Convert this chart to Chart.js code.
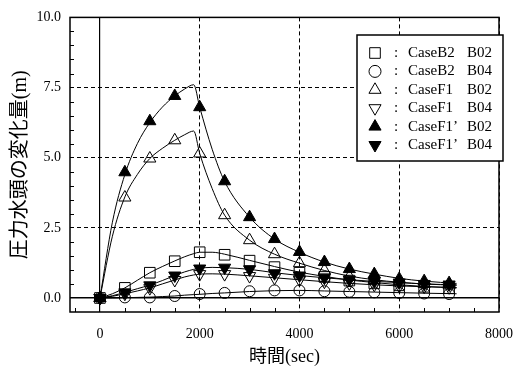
<!DOCTYPE html>
<html>
<head>
<meta charset="utf-8">
<script src="https://cdn.jsdelivr.net/npm/chart.js@4.4.0/dist/chart.umd.min.js"></script>
<style>
html, body { margin: 0; padding: 0; background: #fff; }
#wrap { width: 527px; height: 369px; }
</style>
</head>
<body>
<div id="wrap"><canvas id="c" width="527" height="369"></canvas></div>
<script>
// --- 測定点 (sec) ---
const obsTime = [0, 500, 1000, 1500, 2000, 2500, 3000, 3500, 4000, 4500, 5000, 5500, 6000, 6500, 7000];
const b2b02  = [0, 0.36, 0.90, 1.31, 1.63, 1.54, 1.33, 1.10, 0.90, 0.75, 0.62, 0.52, 0.45, 0.40, 0.35];
const b2b04  = [0, 0.02, 0.02, 0.07, 0.14, 0.18, 0.24, 0.27, 0.27, 0.24, 0.22, 0.20, 0.18, 0.16, 0.14];
const f1b02  = [0, 3.58, 4.97, 5.62, 5.15, 2.95, 2.06, 1.56, 1.24, 0.98, 0.76, 0.64, 0.55, 0.50, 0.45];
const f1b04  = [0, 0.15, 0.35, 0.64, 0.85, 0.85, 0.78, 0.72, 0.65, 0.58, 0.52, 0.47, 0.43, 0.40, 0.38];
const f1pb02 = [0, 4.48, 6.30, 7.20, 6.80, 4.16, 2.88, 2.10, 1.64, 1.28, 1.03, 0.85, 0.68, 0.60, 0.53];
const f1pb04 = [0, 0.20, 0.45, 0.80, 1.05, 1.08, 1.02, 0.88, 0.80, 0.72, 0.65, 0.60, 0.55, 0.50, 0.48];

// --- 解析曲線 ---
const curveTime = [0, 250, 500, 750, 1000, 1250, 1500, 1700, 1880, 2000, 2250, 2500, 3000, 3500, 4000, 4500, 5000, 5500, 6000, 6500, 7150];
const b2b02Curve  = [0, 0.15, 0.36, 0.63, 0.90, 1.12, 1.32, 1.47, 1.58, 1.63, 1.63, 1.56, 1.34, 1.12, 0.92, 0.77, 0.64, 0.55, 0.47, 0.41, 0.36];
const b2b04Curve  = [0, 0.00, 0.01, 0.02, 0.03, 0.05, 0.07, 0.10, 0.12, 0.13, 0.16, 0.18, 0.23, 0.26, 0.27, 0.25, 0.23, 0.21, 0.19, 0.17, 0.15];
const f1b02Curve  = [0, 2.20, 3.60, 4.40, 4.97, 5.33, 5.62, 5.82, 5.95, 5.15, 3.90, 2.95, 2.06, 1.56, 1.24, 0.98, 0.78, 0.65, 0.56, 0.50, 0.45];
const f1b04Curve  = [0, 0.06, 0.15, 0.25, 0.36, 0.50, 0.64, 0.75, 0.82, 0.85, 0.86, 0.85, 0.79, 0.72, 0.65, 0.58, 0.52, 0.47, 0.43, 0.40, 0.37];
const f1pb02Curve = [0, 2.70, 4.40, 5.50, 6.25, 6.80, 7.20, 7.45, 7.60, 6.80, 5.30, 4.15, 2.88, 2.10, 1.63, 1.28, 1.03, 0.85, 0.70, 0.60, 0.52];
const f1pb04Curve = [0, 0.08, 0.20, 0.33, 0.46, 0.62, 0.80, 0.93, 1.02, 1.06, 1.09, 1.08, 1.02, 0.90, 0.80, 0.72, 0.65, 0.59, 0.55, 0.50, 0.47];

// --- 凡例・軸 ---
const caseNames = ['CaseB2', 'CaseB2', 'CaseF1', 'CaseF1', 'CaseF1\u2019', 'CaseF1\u2019'];
const boreNames = ['B02', 'B04', 'B02', 'B04', 'B02', 'B04'];
const xTicks = [0, 2000, 4000, 6000, 8000];
const yTicks = [0, 2.5, 5.0, 7.5, 10.0];
const xMinor = [-500, 500, 1000, 1500, 2500, 3000, 3500, 4500, 5000, 5500, 6500, 7000, 7500];
const yMinor = [0.5, 1, 1.5, 2, 3, 3.5, 4, 4.5, 5.5, 6, 6.5, 7, 8, 8.5, 9, 9.5];
const yTitle = '圧力水頭の変化量(m)';
const xTitle = '時間(sec)';

const serif = "'Liberation Serif','Noto Sans CJK JP',serif";

const toXY = (xs, ys) => xs.map((x, i) => ({ x: x, y: ys[i] }));

// マーカーの見た目
const markerStyle = [
    { pointStyle: 'rect',     rotation: 0,   radius: 7.5, fill: 'rgba(0,0,0,0)' },
    { pointStyle: 'circle',   rotation: 0,   radius: 5.5, fill: 'rgba(0,0,0,0)' },
    { pointStyle: 'triangle', rotation: 0,   radius: 7,   fill: 'rgba(0,0,0,0)' },
    { pointStyle: 'triangle', rotation: 180, radius: 7,   fill: 'rgba(0,0,0,0)' },
    { pointStyle: 'triangle', rotation: 0,   radius: 7,   fill: '#000' },
    { pointStyle: 'triangle', rotation: 180, radius: 7,   fill: '#000' },
];
const obsSeries = [b2b02, b2b04, f1b02, f1b04, f1pb02, f1pb04];
const curveSeries = [b2b02Curve, b2b04Curve, f1b02Curve, f1b04Curve, f1pb02Curve, f1pb04Curve];

const datasets = [];
obsSeries.forEach((ys, i) => {
    const m = markerStyle[i];
    datasets.push({
        label: caseNames[i] + ' ' + boreNames[i],
        data: toXY(obsTime, ys),
        showLine: false,
        pointStyle: m.pointStyle,
        rotation: m.rotation,
        pointRadius: m.radius,
        pointBackgroundColor: m.fill,
        pointBorderColor: '#000',
        pointBorderWidth: 1,
        order: 0,
    });
});
curveSeries.forEach(ys => {
    datasets.push({
        data: toXY(curveTime, ys),
        showLine: true,
        borderColor: '#000',
        borderWidth: 1,
        pointRadius: 0,
        cubicInterpolationMode: 'monotone',
        fill: false,
        order: 1,
    });
});

// 枠・内向き目盛・凡例
const framePlugin = {
    id: 'frame',
    afterDraw(chart) {
        const { ctx, chartArea: a } = chart;
        const xs = chart.scales.x, ys = chart.scales.y;
        ctx.save();
        ctx.strokeStyle = '#000';
        ctx.lineWidth = 1;
        ctx.beginPath();
        xMinor.forEach(v => {
            const px = Math.round(xs.getPixelForValue(v)) + 0.5;
            ctx.moveTo(px, a.bottom); ctx.lineTo(px, a.bottom - 4);
        });
        yMinor.forEach(v => {
            const py = Math.round(ys.getPixelForValue(v)) + 0.5;
            ctx.moveTo(a.left, py); ctx.lineTo(a.left + 4, py);
        });
        ctx.stroke();
        ctx.lineWidth = 1.5;
        ctx.strokeRect(a.left, a.top, a.right - a.left, a.bottom - a.top);

        // 凡例
        const bx = 357, by = 35, bw = 146, bh = 126;
        ctx.fillStyle = '#fff';
        ctx.fillRect(bx, by, bw, bh);
        ctx.lineWidth = 1.5;
        ctx.strokeRect(bx, by, bw, bh);
        ctx.font = "15px " + serif;
        ctx.textBaseline = 'middle';
        ctx.textAlign = 'left';
        for (let i = 0; i < caseNames.length; i++) {
            const cy = 53 + i * 18.4;
            const m = markerStyle[i];
            ctx.fillStyle = m.fill;
            ctx.strokeStyle = '#000';
            ctx.lineWidth = 1;
            Chart.helpers.drawPoint(ctx, {
                pointStyle: m.pointStyle, rotation: m.rotation,
                radius: m.pointStyle === 'circle' ? 6 : m.radius, borderWidth: 1
            }, 375, cy);
            ctx.fillStyle = '#000';
            ctx.fillText(':', 394, cy);
            ctx.fillText(caseNames[i], 408, cy);
            ctx.fillText(boreNames[i], 467, cy);
        }
        ctx.restore();
    }
};

const dashFor = c => (c.tick && c.tick.value === 0) ? [] : [4, 3];

new Chart(document.getElementById('c'), {
    type: 'scatter',
    data: { datasets },
    options: {
        responsive: false,
        animation: false,
        layout: { padding: { left: 0, right: 20, top: 17, bottom: 0 } },
        plugins: {
            legend: { display: false },
            tooltip: { enabled: false },
        },
        scales: {
            x: {
                type: 'linear',
                min: -600, max: 8000,
                afterBuildTicks: s => { s.ticks = xTicks.map(v => ({ value: v })); },
                afterFit: s => { s.height = 57; },
                ticks: {
                    color: '#000',
                    font: { family: serif, size: 14 },
                    padding: 14,
                    maxRotation: 0,
                    autoSkip: false,
                    callback: v => String(v),
                },
                grid: { color: '#000', lineWidth: c => (c.tick && c.tick.value === 0) ? 1.2 : 1, drawTicks: false },
                border: { display: false, dash: dashFor },
                title: {
                    display: true, text: xTitle, color: '#000',
                    font: { family: serif, size: 18 },
                    padding: { top: 0, bottom: 1 },
                },
            },
            y: {
                type: 'linear',
                min: -0.5, max: 10,
                afterBuildTicks: s => { s.ticks = yTicks.map(v => ({ value: v })); },
                afterFit: s => { s.width = 70; },
                ticks: {
                    color: '#000',
                    font: { family: serif, size: 14 },
                    padding: 9,
                    callback: v => v.toFixed(1),
                },
                grid: { color: '#000', lineWidth: c => (c.tick && c.tick.value === 0) ? 1.5 : 1, drawTicks: false },
                border: { display: false, dash: dashFor },
                title: {
                    display: true, text: yTitle, color: '#000',
                    font: { family: serif, size: 20 },
                    padding: { top: 9, bottom: 0 },
                },
            },
        },
    },
    plugins: [framePlugin],
});
</script>
</body>
</html>
